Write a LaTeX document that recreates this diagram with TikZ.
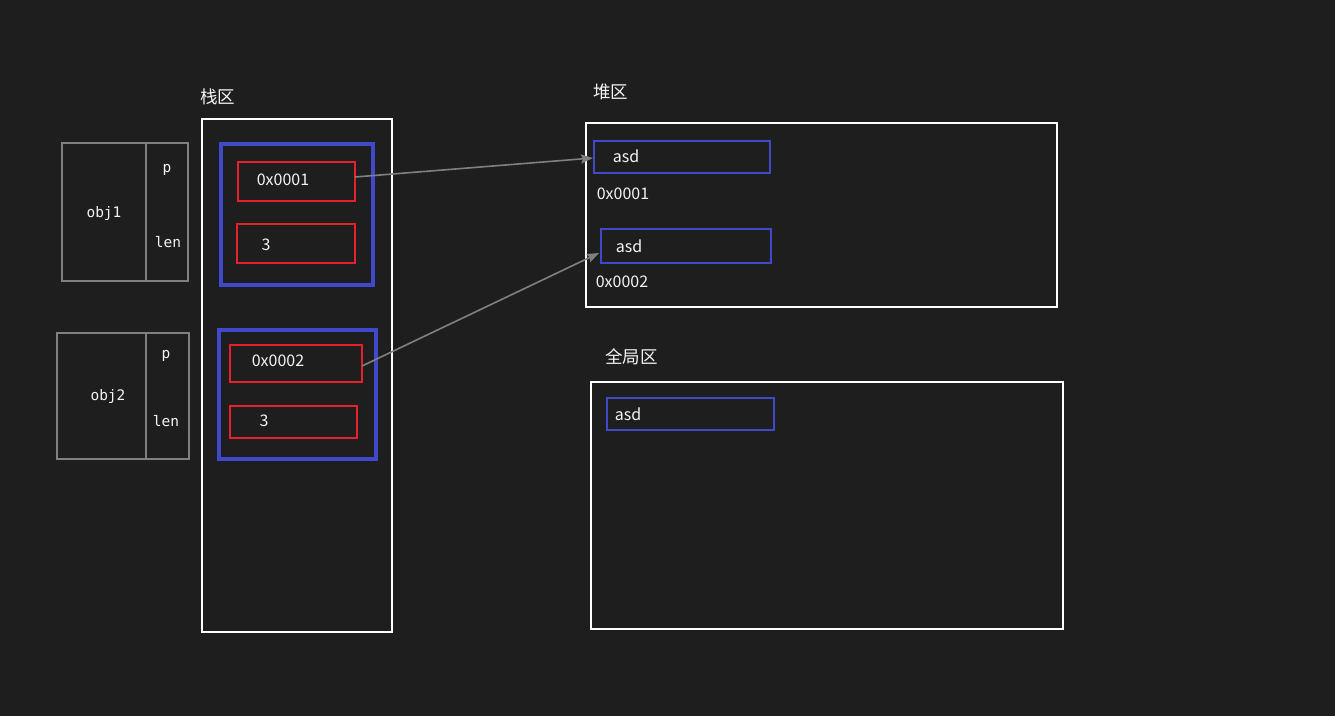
\documentclass[tikz,border=0pt]{standalone}
\usepackage{fontspec}
\setmainfont{Noto Sans CJK SC}
\newfontfamily\monofam{DejaVu Sans Mono}
\usetikzlibrary{arrows.meta}
\definecolor{bgc}{HTML}{1E1E1E}
\definecolor{txt}{HTML}{F4F4F4}
\definecolor{memred}{HTML}{E8202A}
\definecolor{memblue}{HTML}{4048CC}
\definecolor{objgray}{HTML}{808080}
\tikzset{
  lbl/.style={text=txt,inner sep=0pt,font=\fontsize{16}{19}\selectfont},
  title/.style={text=txt,inner sep=0pt,font=\fontsize{17.5}{20}\selectfont},
  small/.style={text=txt,inner sep=0pt,font=\monofam\fontsize{14.5}{17}\selectfont},
  area/.style={draw=white,line width=1.6pt},
  frame/.style={draw=memblue,line width=3.5pt},
  cell/.style={draw=memred,line width=1.6pt},
  heapcell/.style={draw=memblue,line width=1.6pt},
  objbox/.style={draw=objgray,line width=2pt},
  ptr/.style={draw=objgray,line width=1.6pt,-{Stealth[length=12pt,width=9pt,inset=2pt]}}
}
\begin{document}
\begin{tikzpicture}[x=1pt,y=-1pt]
\fill[bgc] (0,0) rectangle (1335,716);
\useasboundingbox (0,0) rectangle (1335,716);

% objects on the left
\draw[objbox] (62,143) rectangle (188,281);
\draw[objbox] (146,143) -- (146,281);
\node[small] (o1) at (104,213) {obj1};
\node[small] (o1p) at (167,170) {p};
\node[small] (o1l) at (168,242) {len};

\draw[objbox] (57,333) rectangle (189,459);
\draw[objbox] (146,333) -- (146,459);
\node[small] (o2) at (108,396) {obj2};
\node[small] (o2p) at (166,356) {p};
\node[small] (o2l) at (166,421) {len};

% stack
\node[title,anchor=west] (stacklbl) at (200,97) {栈区};
\draw[area] (202,119) rectangle (392,632);
\draw[frame] (221,144) rectangle (373,285);
\draw[frame] (219,330) rectangle (376,459);
\node[cell,minimum width=117pt,minimum height=39pt,inner sep=0pt] (s1) at (296.5,181.5) {};
\node[lbl] at (283,180) {0x0001};
\node[cell,minimum width=118pt,minimum height=39pt,inner sep=0pt] (s2) at (296,243.5) {};
\node[lbl] at (266,245) {3};
\node[cell,minimum width=132pt,minimum height=37pt,inner sep=0pt] (s3) at (296,363.5) {};
\node[lbl] at (278,361) {0x0002};
\node[cell,minimum width=127pt,minimum height=32pt,inner sep=0pt] (s4) at (293.5,422) {};
\node[lbl] at (264,421) {3};

% heap
\node[title,anchor=west] (heaplbl) at (593,92) {堆区};
\draw[area] (586,123) rectangle (1057,307);
\node[heapcell,minimum width=176pt,minimum height=32pt,inner sep=0pt] (h1) at (682,157) {};
\node[lbl] at (626,156) {asd};
\node[lbl] at (623,194) {0x0001};
\node[heapcell,minimum width=170pt,minimum height=34pt,inner sep=0pt] (h2) at (686,246) {};
\node[lbl] at (629,246) {asd};
\node[lbl] at (622,282) {0x0002};

% globals
\node[title,anchor=west] (globlbl) at (605,357) {全局区};
\draw[area] (591,382) rectangle (1063,629);
\node[heapcell,minimum width=167pt,minimum height=32pt,inner sep=0pt] (g1) at (690.5,414) {};
\node[lbl] at (628,414) {asd};

% pointers from the stack into the heap
\coordinate (p1s) at (355,177);
\coordinate (p1e) at (593,158);
\coordinate (p2s) at (362,366);
\coordinate (p2e) at (599,253);
\draw[ptr] (p1s) -- (p1e);
\draw[ptr] (p2s) -- (p2e);
\end{tikzpicture}
\end{document}
